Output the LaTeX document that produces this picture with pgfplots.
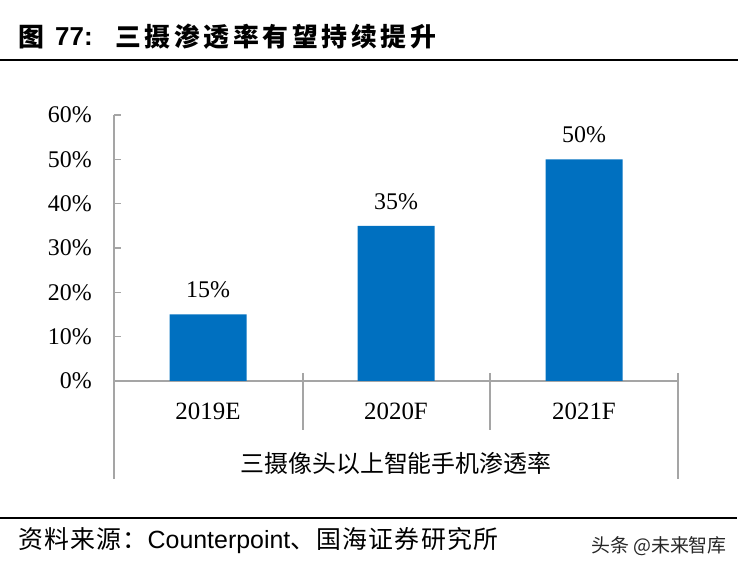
\documentclass[border=0pt]{standalone}
\usepackage{pgfplots}
\pgfplotsset{compat=1.18}
\usepackage{fontspec}
\setmainfont{Liberation Serif}
\newfontfamily\cjk{Noto Sans CJK SC}
\newfontfamily\cjktitle{Noto Sans CJK SC}[LetterSpace=14]
\newfontfamily\cjksrc{Noto Sans CJK SC}[LetterSpace=5]
\newfontfamily\sans{Liberation Sans}
\definecolor{barblue}{RGB}{0,112,192}
\definecolor{axgray}{RGB}{165,165,165}
\newcommand{\fs}[1]{\fontsize{#1}{#1}\selectfont}
\begin{document}
\begin{tikzpicture}[x=1bp,y=1bp]
\useasboundingbox (0,0) rectangle (744,574);
% title
\node[anchor=west, inner sep=0pt, font=\fs{26}] at (18,537) {\cjk\bfseries 图};
\node[anchor=west, inner sep=0pt, font=\fs{26}] at (55,537) {\sans\bfseries 77:};
\node[anchor=west, inner sep=0pt, font=\fs{26}] at (115,537) {\cjktitle\bfseries 三摄渗透率有望持续提升};
\draw[line width=2bp] (0,514) -- (738,514);
\begin{axis}[
  at={(114bp,193bp)}, anchor=south west,
  scale only axis, width=564bp, height=266bp,
  xmin=0, xmax=3, ymin=0, ymax=60,
  axis lines*=left,
  axis line style={axgray, line width=1.2bp},
  tick align=inside,
  tick style={axgray, line width=1.2bp},
  major tick length=7bp,
  ytick={0,10,...,60},
  yticklabel={\pgfmathprintnumber{\tick}\%},
  yticklabel style={font=\fs{24}, inner sep=0pt, xshift=-22bp},
  xtick={0.5,1.5,2.5},
  xticklabels={2019E,2020F,2021F},
  major x tick style={draw=none},
  xticklabel style={font=\fs{25}, inner sep=0pt, yshift=-15bp},
  /pgf/number format/assume math mode=true,
  ybar, bar width=77bp,
  nodes near coords={\pgfmathprintnumber{\pgfplotspointmeta}\%},
  nodes near coords style={font=\fs{24}, inner sep=0pt, anchor=south, yshift=16bp, black},
  clip=false,
]
\addplot[fill=barblue, draw=none] coordinates {(0.5,15) (1.5,35) (2.5,50)};
\end{axis}
% category frame below the axis
\draw[axgray, line width=1.2bp] (114,193) -- (114,95);
\draw[axgray, line width=1.2bp] (303,201) -- (303,144);
\draw[axgray, line width=1.2bp] (490,201) -- (490,144);
\draw[axgray, line width=1.2bp] (678,201) -- (678,95);
\node[font=\cjk\fs{24}] at (396,111) {三摄像头以上智能手机渗透率};
% source
\draw[line width=2bp] (0,56) -- (737,56);
\node[anchor=west, inner sep=0pt, font=\fs{25}] at (18,33) {\cjksrc 资料来源：\sans Counterpoint\cjksrc 、国海证券研究所};
\node[anchor=east, inner sep=0pt, font=\fs{19}, text=black!85] at (727,28) {\cjk 头条 @未来智库};
\end{tikzpicture}
\end{document}
